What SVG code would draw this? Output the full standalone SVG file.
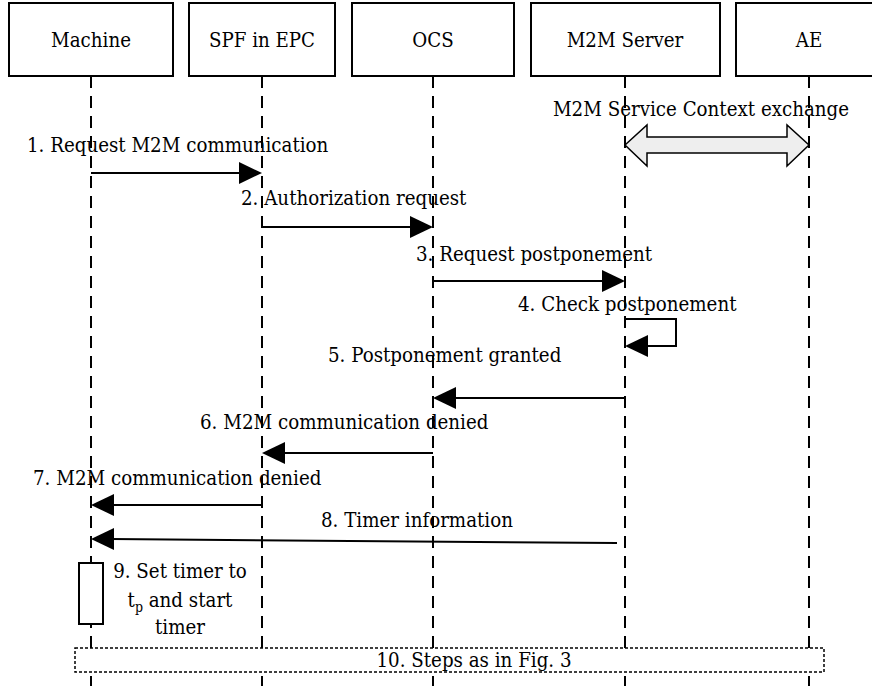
<svg xmlns="http://www.w3.org/2000/svg" width="872" height="686" viewBox="0 0 872 686">
<style>
.box{fill:#fff;stroke:#000;stroke-width:2}
.life{stroke:#000;stroke-width:2;stroke-dasharray:12 8;fill:none}
.msg{stroke:#000;stroke-width:2;fill:none}
.head{fill:#000}
</style>
<rect width="872" height="686" fill="#fff"/>
<g id="lifelines">
<line class="life" x1="91" y1="76" x2="91" y2="686"/>
<line class="life" x1="262" y1="76" x2="262" y2="686"/>
<line class="life" x1="433" y1="76" x2="433" y2="686"/>
<line class="life" x1="625" y1="76" x2="625" y2="686"/>
<line class="life" x1="809" y1="76" x2="809" y2="686"/>
</g>
<g font-family="'DejaVu Serif', serif" font-stretch="condensed" font-size="20.3" fill="#000">
<g id="machine"><rect class="box" x="9" y="3" width="164" height="73"/><text x="91" y="47" text-anchor="middle">Machine</text></g>
<g id="spf"><rect class="box" x="189" y="3" width="146" height="73"/><text x="262" y="47" text-anchor="middle">SPF in EPC</text></g>
<g id="ocs"><rect class="box" x="352" y="3" width="162" height="73"/><text x="433" y="47" text-anchor="middle">OCS</text></g>
<g id="m2mserver"><rect class="box" x="531" y="3" width="189" height="73"/><text x="625" y="47" text-anchor="middle">M2M Server</text></g>
<g id="ae"><rect class="box" x="736" y="3" width="146" height="73"/><text x="809" y="47" text-anchor="middle">AE</text></g>
<g id="connectors">
<path d="M625,145 L647,125 L647,137 L787,137 L787,125 L809,145 L787,166 L787,153 L647,153 L647,166 Z" fill="#eeeeee" stroke="#000" stroke-width="1.5"/>
<text x="701" y="116" text-anchor="middle">M2M Service Context exchange</text>

<line class="msg" x1="91" y1="173" x2="242" y2="173"/><path class="head" d="M262,173 L239,162 L239,184 Z"/>
<text x="27" y="152">1. Request M2M communication</text>

<line class="msg" x1="262" y1="227" x2="413" y2="227"/><path class="head" d="M433,227 L410,216 L410,238 Z"/>
<text x="241" y="205">2. Authorization request</text>

<line class="msg" x1="433" y1="281" x2="605" y2="281"/><path class="head" d="M625,281 L602,270 L602,292 Z"/>
<text x="416" y="261">3. Request postponement</text>

<path class="msg" d="M625,319 L676,319 L676,346 L645,346"/><path class="head" d="M625,346 L648,335 L648,357 Z"/>
<text x="518" y="311">4. Check postponement</text>

<line class="msg" x1="625" y1="398" x2="453" y2="398"/><path class="head" d="M433,398 L456,387 L456,409 Z"/>
<text x="328" y="362">5. Postponement granted</text>

<line class="msg" x1="433" y1="453" x2="282" y2="453"/><path class="head" d="M262,453 L285,442 L285,464 Z"/>
<text x="200" y="429">6. M2M communication denied</text>

<line class="msg" x1="262" y1="505" x2="111" y2="505"/><path class="head" d="M91,505 L114,494 L114,516 Z"/>
<text x="33" y="485">7. M2M communication denied</text>

<line class="msg" x1="617" y1="543" x2="111" y2="539"/><path class="head" d="M91,539 L114,528 L114,550 Z"/>
<text x="321" y="527">8. Timer information</text>
</g>
<g id="step9">
<rect class="box" x="79" y="563" width="24" height="61"/>
<text x="180" y="578" text-anchor="middle">9. Set timer to</text>
<text x="180" y="607" text-anchor="middle">t<tspan font-size="14" dy="5">p</tspan><tspan dy="-5"> and start</tspan></text>
<text x="180" y="634" text-anchor="middle">timer</text>
</g>
<g id="step10">
<rect x="75" y="648" width="749" height="24" fill="#fff" stroke="#000" stroke-width="1.5" stroke-dasharray="3 2"/>
<text x="474" y="667" text-anchor="middle">10. Steps as in Fig. 3</text>
</g>
</g>
</svg>
